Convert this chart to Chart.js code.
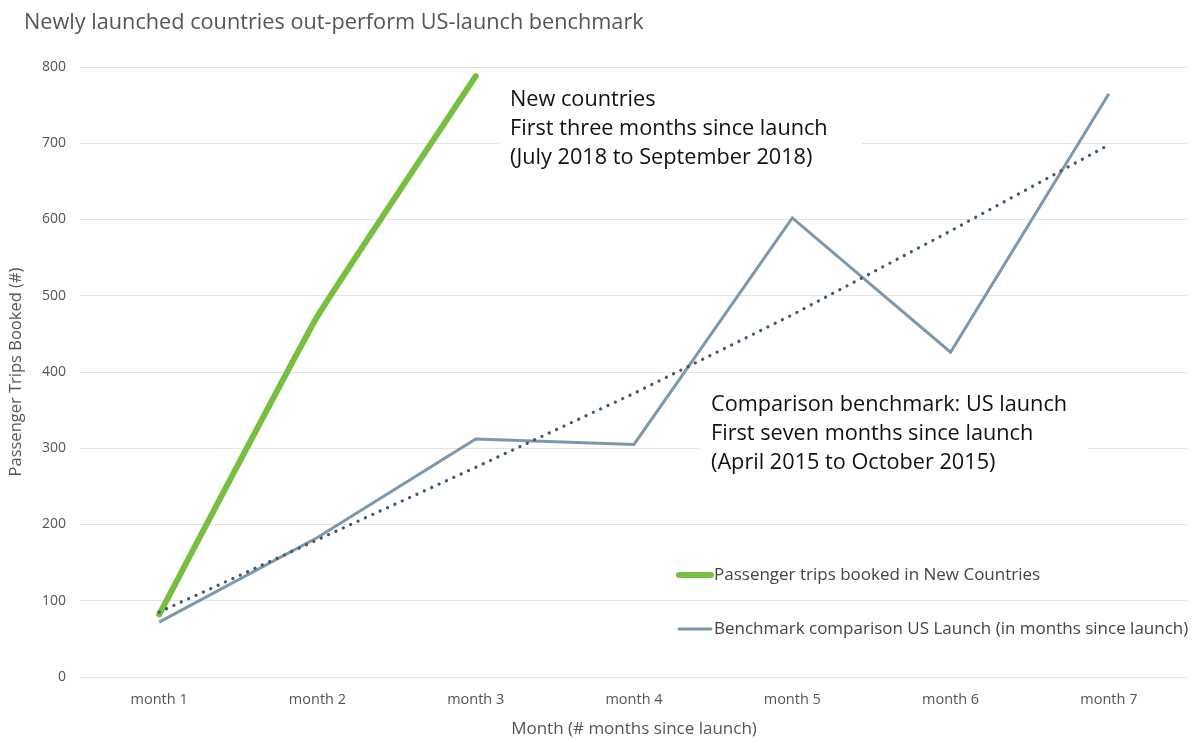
<!DOCTYPE html>
<html>
<head>
<meta charset="utf-8">
<script src="https://cdn.jsdelivr.net/npm/chart.js@4.4.1/dist/chart.umd.min.js"></script>
<style>
  html, body { margin: 0; padding: 0; background: #fff; }
  #wrap { width: 1194px; height: 739px; }
</style>
</head>
<body>
<div id="wrap"><canvas id="tripsChart"></canvas></div>
<script>
const months = ['month 1', 'month 2', 'month 3', 'month 4', 'month 5', 'month 6', 'month 7'];
const newCountries = [82, 473, 788];
const usLaunch = [72, 183, 312, 305, 602, 426, 765];
const usTrend = [85, 180, 275, 372, 475, 585, 698];

const chartTitle = 'Newly launched countries out-perform US-launch benchmark';
const noteNew = ['New countries', 'First three months since launch', '(July 2018 to September 2018)'];
const noteUS = ['Comparison benchmark: US launch', 'First seven months since launch', '(April 2015 to October 2015)'];

const FONT = '"Open Sans", "Noto Sans", sans-serif';

// title, text notes and in-plot legend
const extras = {
  id: 'extras',
  beforeDatasetsDraw(chart) {
    const ctx = chart.ctx;
    ctx.save();
    ctx.fillStyle = '#fff';
    ctx.fillRect(500, 84, 362, 88);
    ctx.fillRect(700, 390, 388, 88);
    ctx.restore();
  },
  afterDraw(chart) {
    const ctx = chart.ctx;
    ctx.save();
    ctx.textBaseline = 'middle';
    ctx.textAlign = 'left';

    ctx.font = '21.7px ' + FONT;
    ctx.fillStyle = '#555';
    ctx.fillText(chartTitle, 24, 23);

    ctx.font = '21.7px ' + FONT;
    ctx.fillStyle = '#111';
    noteNew.forEach((t, i) => ctx.fillText(t, 510, 100 + i * 29));
    noteUS.forEach((t, i) => ctx.fillText(t, 711, 405 + i * 29));

    // legend (trend line left out)
    const items = [chart.data.datasets[1], chart.data.datasets[2]];
    items.forEach((ds, i) => {
      const y = 575 + i * 54;
      ctx.strokeStyle = ds.borderColor;
      ctx.lineWidth = ds.borderWidth;
      ctx.lineCap = 'round';
      ctx.beginPath();
      ctx.moveTo(679, y);
      ctx.lineTo(711, y);
      ctx.stroke();
      ctx.font = '17px ' + FONT;
      ctx.fillStyle = '#444';
      ctx.fillText(ds.label, 714, y);
    });
    ctx.restore();
  }
};

const ctx = document.getElementById('tripsChart');

new Chart(ctx, {
  type: 'line',
  data: {
    labels: months,
    datasets: [
      {
        label: 'Trend',
        data: usTrend,
        borderColor: '#3e5a72',
        borderWidth: 3.2,
        borderDash: [0.1, 8],
        borderCapStyle: 'round',
        pointRadius: 0,
        tension: 0
      },
      {
        label: 'Passenger trips booked in New Countries',
        data: newCountries,
        borderColor: '#76bf41',
        borderWidth: 6,
        borderCapStyle: 'round',
        pointRadius: 0,
        tension: 0.1
      },
      {
        label: 'Benchmark comparison US Launch (in months since launch)',
        data: usLaunch,
        borderColor: '#7e98ab',
        borderWidth: 3,
        pointRadius: 0,
        tension: 0
      }
    ]
  },
  options: {
    responsive: true,
    maintainAspectRatio: false,
    animation: false,
    layout: {
      padding: { top: 67, right: 6, bottom: 0, left: 0 }
    },
    plugins: {
      legend: { display: false },
      tooltip: { enabled: false }
    },
    scales: {
      x: {
        offset: true,
        grid: { display: false },
        border: { display: false },
        ticks: {
          color: '#555',
          font: { family: FONT, size: 14.5 },
          padding: 6
        },
        title: {
          display: true,
          text: 'Month (# months since launch)',
          color: '#555',
          font: { family: FONT, size: 17 },
          padding: { top: 0, bottom: 0 }
        },
        afterFit(scale) { scale.height = 62; }
      },
      y: {
        min: 0,
        max: 800,
        ticks: {
          stepSize: 100,
          color: '#555',
          font: { family: FONT, size: 14 },
          padding: 14
        },
        grid: {
          color: '#e4e4e4',
          drawTicks: false
        },
        border: { display: false },
        title: {
          display: true,
          text: 'Passenger Trips Booked (#)',
          color: '#555',
          font: { family: FONT, size: 16.5 },
          padding: { top: 6, bottom: 0 }
        },
        afterFit(scale) { scale.width = 80; }
      }
    }
  },
  plugins: [extras]
});
</script>
</body>
</html>
